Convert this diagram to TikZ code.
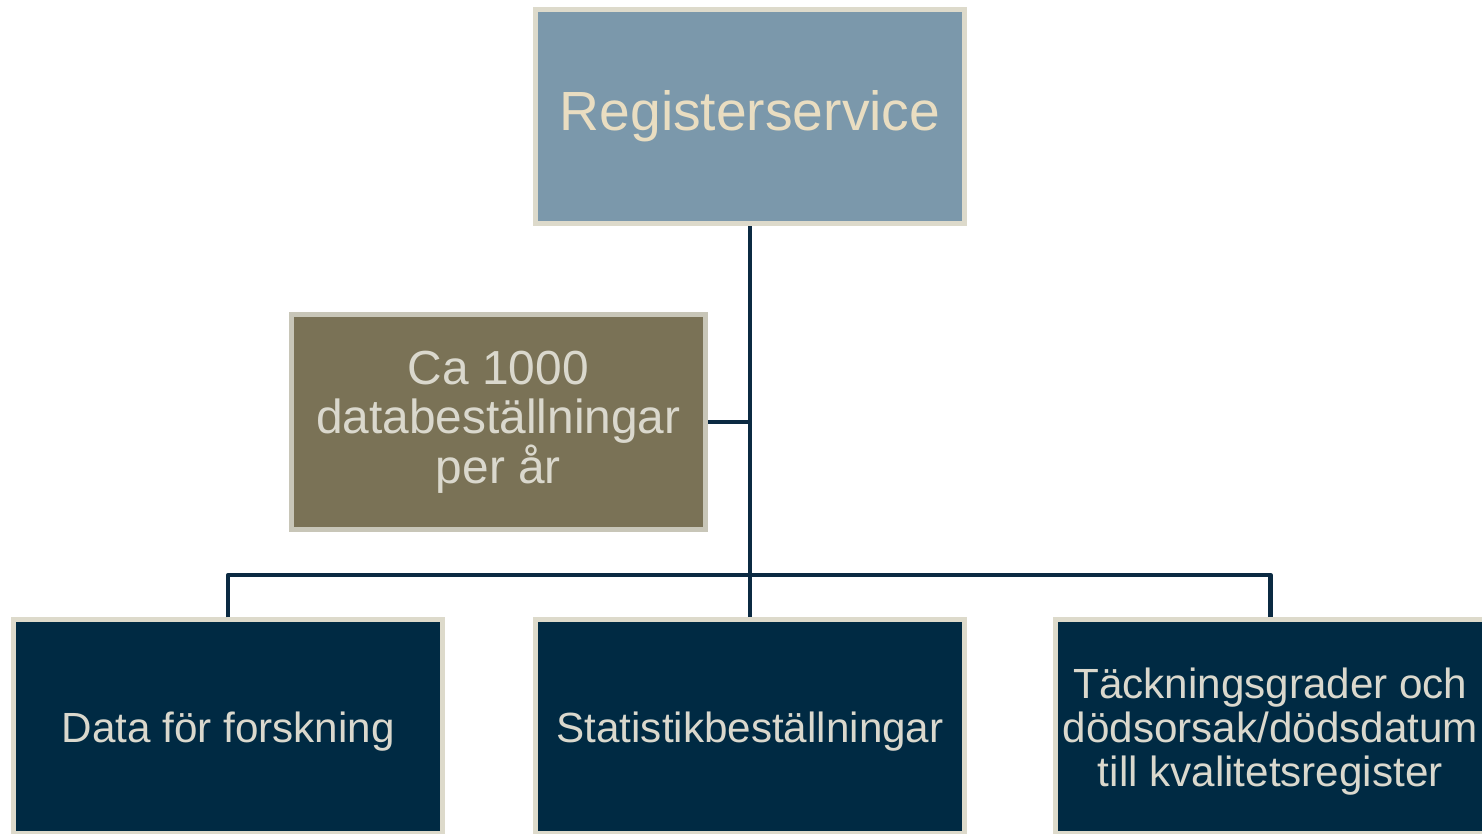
\documentclass[tikz,border=0pt]{standalone}
\usepackage{fontspec}
\setmainfont{Liberation Sans}
\usetikzlibrary{positioning}
\usetikzlibrary{calc}
\definecolor{topblue}{HTML}{7B98AB}
\definecolor{olive}{HTML}{7A7256}
\definecolor{navy}{HTML}{002A43}
\definecolor{rim}{HTML}{DDDACB}
\definecolor{rimgrey}{HTML}{C8C6B8}
\definecolor{cream}{HTML}{E9DDC1}
\definecolor{pale}{HTML}{DAD8CD}
\definecolor{wire}{HTML}{0B2A42}
\tikzset{box/.style={draw=rim,line width=1.42pt,minimum width=4.29cm,minimum height=2.14cm,align=center,inner sep=0pt}}
\tikzset{leaf/.style={box,fill=navy,text=pale,font=\fontsize{12}{12.5}\selectfont,text depth=0pt}}
\tikzset{link/.style={draw=wire,line width=1.3pt,line join=round}}

\begin{document}
\begin{tikzpicture}[x=0.01cm,y=-0.01cm]
\useasboundingbox (0,0) rectangle (1482,834);
\begin{scope}[on grid]
\node[box,fill=topblue,text=cream,font=\fontsize{15.7}{18}\selectfont] (reg) at (750,116.5) {Registerservice};
\node[box,fill=olive,draw=rimgrey,text=pale,minimum width=4.14cm,minimum height=2.15cm,font=\fontsize{13.6}{14}\selectfont] (orders) [below left = 3.055cm and 2.515cm of reg] {Ca 1000\\databeställningar\\per år};
\node[leaf] (stat) [below = 6.1cm of reg] {Statistikbeställningar};
\node[leaf] (data) [left = 5.215cm of stat] {Data för forskning};
\node[leaf] (cover) [right = 5.2cm of stat] {Täckningsgrader och\\dödsorsak/dödsdatum\\till kvalitetsregister};

\coordinate (bus) at (750,575);
\draw[link] (reg.south) -- (stat.north);
\draw[link] (orders.east) -- (orders.east -| reg.south);
\draw[link] (data.north) |- (bus) -| (cover.north);
\end{scope}
\end{tikzpicture}
\end{document}
